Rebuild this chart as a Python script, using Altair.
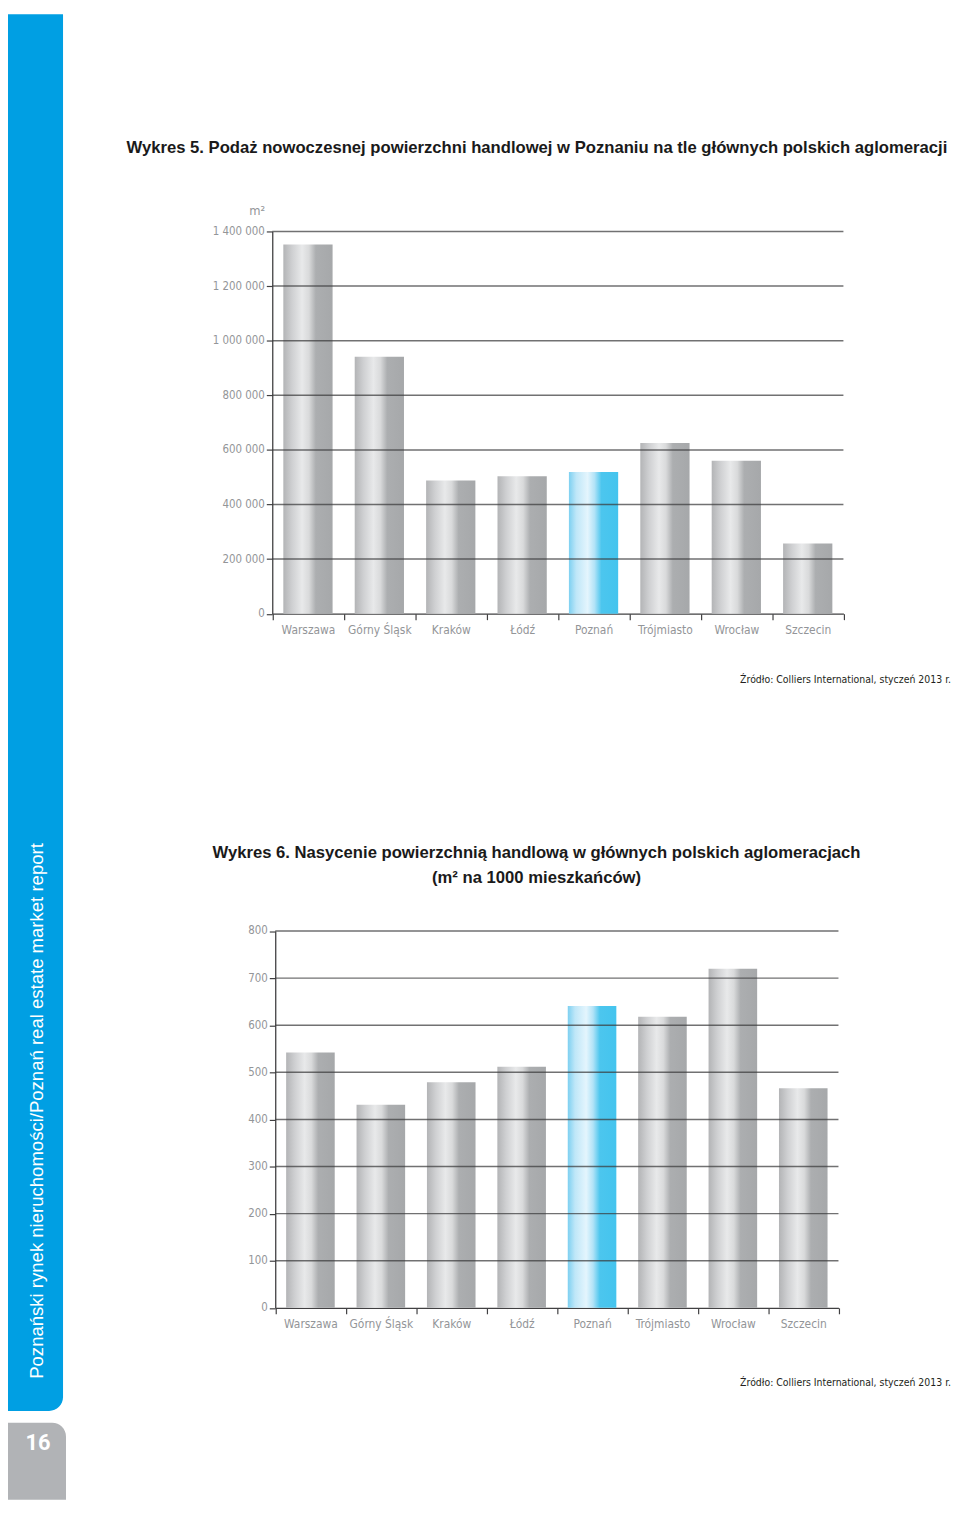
import altair as alt
import pandas as pd

# ---------------- data ----------------
cities = ["Warszawa", "Górny Śląsk", "Kraków", "Łódź", "Poznań", "Trójmiasto", "Wrocław", "Szczecin"]
supply = [1352000, 941000, 488000, 503000, 519000, 625000, 560000, 257000]
saturation = [542, 431, 479, 512, 641, 618, 720, 466]
supply_ticks = [0, 200000, 400000, 600000, 800000, 1000000, 1200000, 1400000]
saturation_ticks = [0, 100, 200, 300, 400, 500, 600, 700, 800]
highlight = "Poznań"

title1 = "Wykres 5. Podaż nowoczesnej powierzchni handlowej w Poznaniu na tle głównych polskich aglomeracji"
title2a = "Wykres 6. Nasycenie powierzchnią handlową w głównych polskich aglomeracjach"
title2b = "(m² na 1000 mieszkańców)"
unit1 = "m²"
source_note = "Źródło: Colliers International, styczeń 2013 r."
side_text = "Poznański rynek nieruchomości/Poznań real estate market report"
page_no = "16"

# ---------------- styles ----------------
W, H = 952, 1498
COND = "Liberation Sans Narrow, DejaVu Sans Condensed, Liberation Sans"
BOLD = "Liberation Sans"
LABEL = "#939598"
AXIS = "#414042"
BLUE = "#009fe3"
GREYBOX = "#b1b3b6"


def grad(stops):
    return alt.LinearGradient(
        gradient="linear", x1=0, x2=1, y1=0, y2=0,
        stops=[alt.GradientStop(offset=o, color=c) for o, c in stops],
    )


grey_grad = grad([(0, "#b3b4b6"), (0.18, "#cfd0d2"), (0.38, "#e8e9ea"),
                  (0.52, "#d9dadb"), (0.66, "#acaeb0"), (1, "#a6a8aa")])
blue_grad = grad([(0, "#7dd0f1"), (0.15, "#bfe7f8"), (0.38, "#e4f5fd"),
                  (0.52, "#b2e3f7"), (0.66, "#4cc6ee"), (1, "#44c4ee")])

space_fmt = "replace(replace(format(datum.value, ','), ',', ' '), ',', ' ')"


def panel(values, ticks, xr, yr):
    df = pd.DataFrame({"city": cities, "value": values})
    gdf = pd.DataFrame({"value": [t for t in ticks if t > 0]})
    xs = alt.Scale(domain=cities, range=xr, paddingInner=0, paddingOuter=0)
    ys = alt.Scale(domain=[0, ticks[-1]], range=yr, nice=False, zero=True)
    xax = alt.Axis(orient="bottom", offset=yr[0] - H, title=None, labelAngle=0,
                   tickBand="extent", tickSize=6, tickWidth=1.2, tickColor=AXIS,
                   domainColor=AXIS, domainWidth=1.3, labelColor=LABEL,
                   labelFont=COND, labelFontSize=12, labelPadding=5,
                   labelOverlap=False)
    yax = alt.Axis(orient="left", offset=-xr[0], title=None, values=ticks,
                   labelExpr=space_fmt, tickSize=6, tickWidth=1.2, tickColor=AXIS,
                   domainColor=AXIS, domainWidth=1.3, labelColor=LABEL,
                   labelFont=COND, labelFontSize=11.5, labelPadding=2, grid=False,
                   labelOverlap=False)
    x = alt.X("city:N", sort=cities, scale=xs, axis=xax)
    y = alt.Y("value:Q", scale=ys, axis=yax)
    base = alt.Chart(df)
    grey = base.transform_filter(alt.datum.city != highlight).mark_bar(
        fill=grey_grad, width=alt.RelativeBandSize(0.69)).encode(x=x, y=y)
    blue = base.transform_filter(alt.datum.city == highlight).mark_bar(
        fill=blue_grad, width=alt.RelativeBandSize(0.69)).encode(x=x, y=y)
    grid = alt.Chart(gdf).mark_rule(color="#3a3a3c", strokeWidth=1.5, opacity=0.72).encode(
        y=alt.Y("value:Q", scale=ys, axis=yax),
        x=alt.value(xr[0]), x2=alt.value(xr[1]))
    return alt.layer(grey, blue, grid)


p1 = panel(supply, supply_ticks, [266.5, 842.5], [604.5, 219])
p2 = panel(saturation, saturation_ticks, [269.5, 837.5], [1304.5, 924.5])

one = pd.DataFrame({"k": [0]})


def label(txt, x, y, **kw):
    return alt.Chart(pd.DataFrame({"t": [txt]})).mark_text(**kw).encode(
        text="t:N", x=alt.value(x), y=alt.value(y))


deco = [
    alt.Chart(one).mark_rect(fill=BLUE, cornerRadiusBottomRight=14).encode(
        x=alt.value(0), x2=alt.value(55.5), y=alt.value(0), y2=alt.value(1408.5)),
    alt.Chart(one).mark_rect(fill=GREYBOX, cornerRadiusTopRight=14).encode(
        x=alt.value(0), x2=alt.value(58.5), y=alt.value(1420.5), y2=alt.value(H)),
    label(side_text, 29.3, 1106, angle=270, align="center", baseline="middle",
          font="Liberation Sans", fontSize=18.7, color="white"),
    label(page_no, 30.3, 1441, align="center", baseline="middle",
          font="Roboto", fontWeight="bold", fontSize=22, color="white"),
    label(title1, 533.4, 134.5, align="center", baseline="middle",
          font=BOLD, fontWeight="bold", fontSize=16.8, color="#1a1a1a"),
    label(unit1, 259.4, 198, align="right", baseline="middle",
          font=COND, fontSize=13, color=LABEL),
    label(source_note, 951, 671, align="right", baseline="middle",
          font=COND, fontSize=10.5, color="#231f20"),
    label(title2a, 533, 845.5, align="center", baseline="middle",
          font=BOLD, fontWeight="bold", fontSize=16.8, color="#1a1a1a"),
    label(title2b, 533, 871, align="center", baseline="middle",
          font=BOLD, fontWeight="bold", fontSize=16.8, color="#1a1a1a"),
    label(source_note, 951, 1380.5, align="right", baseline="middle",
          font=COND, fontSize=10.5, color="#231f20"),
]

chart = alt.layer(*deco, p1, p2).resolve_scale(
    x="independent", y="independent"
).properties(width=W, height=H, padding=0).configure_view(stroke=None)

chart.save("out.html", embed_options={"renderer": "svg", "actions": False})
